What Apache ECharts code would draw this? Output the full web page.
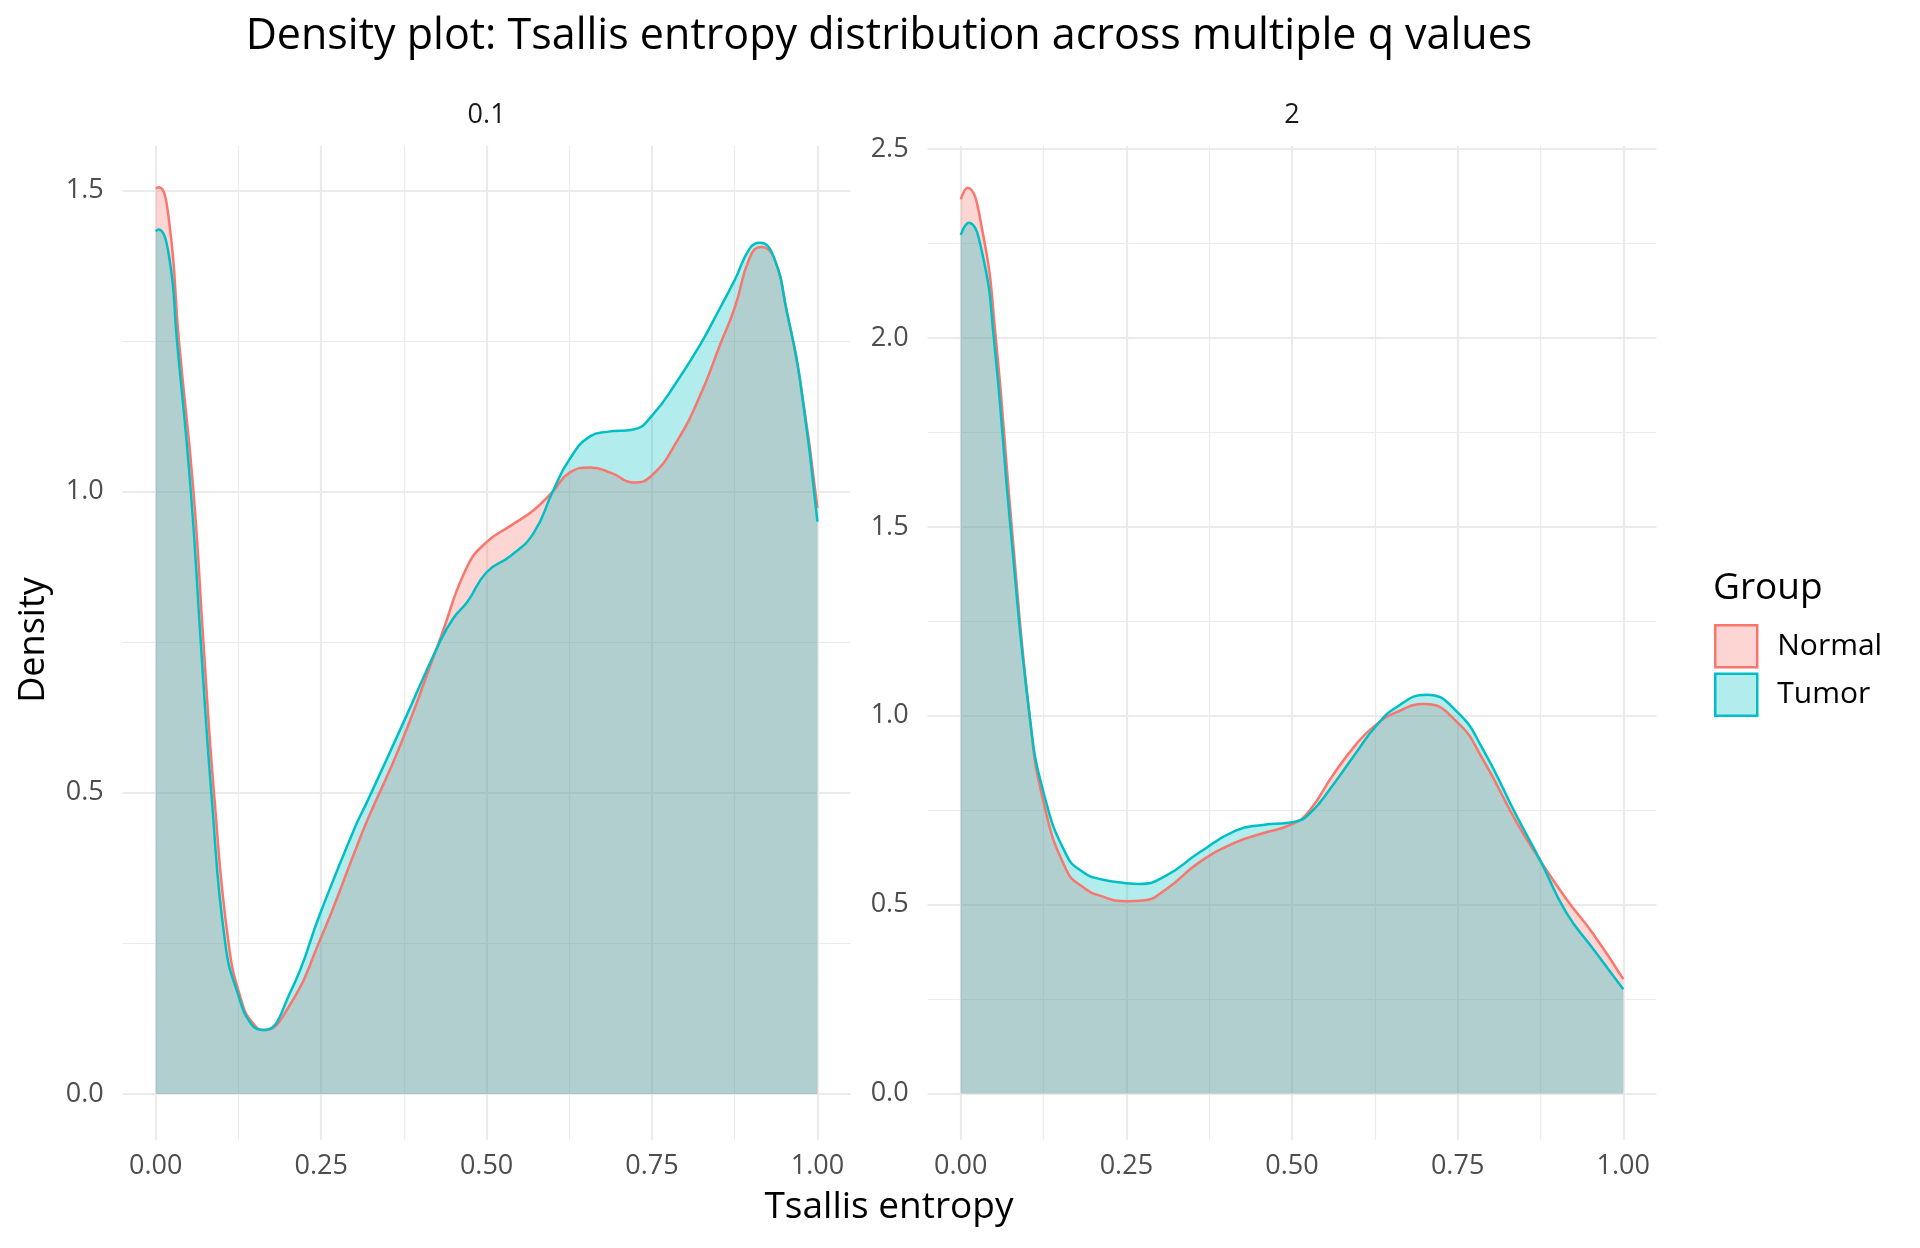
<!DOCTYPE html>
<html>
<head>
<meta charset="utf-8">
<script src="https://cdn.jsdelivr.net/npm/echarts@6/dist/echarts.min.js"></script>
<style>
html,body{margin:0;padding:0;background:#fff;}
#chart{width:1920px;height:1248px;}
</style>
</head>
<body>
<div id="chart"></div>
<script>
// ---- data ----
var panelLabels = ['0.1', '2'];
var groups = ['Normal', 'Tumor'];
var groupColors = ['#F8766D', '#00BFC4'];

// q = 0.1 panel
var q01NormalX = [0, 0.005, 0.02, 0.035, 0.057, 0.072, 0.088, 0.11, 0.13, 0.145, 0.163, 0.2, 0.25, 0.3, 0.32, 0.37, 0.43, 0.47, 0.5, 0.536, 0.571, 0.6, 0.625, 0.657, 0.69, 0.722, 0.75, 0.788, 0.823, 0.853, 0.875, 0.898, 0.915, 0.934, 0.954, 0.974, 1.0];
var q01NormalY = [1.503, 1.505, 1.45, 1.25, 1.0, 0.75, 0.5, 0.25, 0.153, 0.12, 0.106, 0.143, 0.26, 0.40, 0.455, 0.58, 0.756, 0.874, 0.916, 0.943, 0.969, 1.0, 1.031, 1.04, 1.03, 1.015, 1.027, 1.084, 1.16, 1.244, 1.305, 1.389, 1.406, 1.389, 1.297, 1.183, 0.973];
var q01TumorX = [0, 0.004, 0.02, 0.032, 0.053, 0.068, 0.084, 0.105, 0.125, 0.145, 0.163, 0.203, 0.25, 0.3, 0.319, 0.374, 0.43, 0.45, 0.471, 0.5, 0.536, 0.571, 0.6, 0.625, 0.657, 0.682, 0.722, 0.75, 0.788, 0.823, 0.853, 0.875, 0.898, 0.913, 0.934, 0.954, 0.974, 1.0];
var q01TumorY = [1.432, 1.435, 1.391, 1.25, 1.0, 0.75, 0.5, 0.25, 0.163, 0.115, 0.106, 0.168, 0.304, 0.44, 0.484, 0.616, 0.752, 0.79, 0.817, 0.866, 0.893, 0.931, 1.0, 1.053, 1.092, 1.099, 1.103, 1.126, 1.183, 1.244, 1.305, 1.351, 1.404, 1.413, 1.389, 1.297, 1.183, 0.95];

// q = 2 panel
var q2NormalX = [0, 0.01, 0.033, 0.053, 0.077, 0.104, 0.125, 0.16, 0.185, 0.21, 0.25, 0.275, 0.31, 0.36, 0.415, 0.456, 0.5, 0.526, 0.561, 0.597, 0.625, 0.657, 0.7, 0.75, 0.788, 0.839, 0.875, 0.914, 0.955, 1.0];
var q2NormalY = [2.367, 2.398, 2.281, 2.0, 1.5, 1.0, 0.771, 0.59, 0.546, 0.524, 0.509, 0.511, 0.541, 0.612, 0.665, 0.689, 0.713, 0.748, 0.841, 0.925, 0.974, 1.009, 1.031, 0.982, 0.885, 0.718, 0.616, 0.515, 0.422, 0.303];
var q2TumorX = [0, 0.012, 0.033, 0.05, 0.075, 0.104, 0.125, 0.16, 0.185, 0.21, 0.25, 0.27, 0.31, 0.36, 0.415, 0.456, 0.5, 0.526, 0.561, 0.597, 0.625, 0.657, 0.703, 0.75, 0.788, 0.839, 0.875, 0.914, 0.955, 1.0];
var q2TumorY = [2.273, 2.305, 2.22, 2.0, 1.5, 1.0, 0.797, 0.63, 0.586, 0.568, 0.557, 0.555, 0.577, 0.638, 0.696, 0.711, 0.718, 0.74, 0.815, 0.903, 0.969, 1.022, 1.056, 1.009, 0.912, 0.735, 0.616, 0.479, 0.382, 0.276];

// tick values
var xMajorTicks = [0, 0.25, 0.5, 0.75, 1.0];
var xMinorTicks = [0.125, 0.375, 0.625, 0.875];
var yMajorTicksLeft = [0, 0.5, 1.0, 1.5];
var yMinorTicksLeft = [0.25, 0.75, 1.25];
var yMajorTicksRight = [0, 0.5, 1.0, 1.5, 2.0, 2.5];
var yMinorTicksRight = [0.25, 0.75, 1.25, 1.75, 2.25];

// ---- chart ----
var FONT = 'Open Sans';
function zip(xs, ys) { return xs.map(function (x, i) { return [x, ys[i]]; }); }

var grids = [
  { left: 122.7, top: 145.7, width: 727.8, height: 994 },
  { left: 927.6, top: 145.7, width: 728.8, height: 994 }
];
var xRange = [-0.05, 1.05];
var yRanges = [[-0.0759, 1.574], [-0.122, 2.509]];
var yMajors = [yMajorTicksLeft, yMajorTicksRight];
var yMinors = [yMinorTicksLeft, yMinorTicksRight];

var xAxes = [], yAxes = [];
for (var g = 0; g < 2; g++) {
  xAxes.push({
    type: 'value', gridIndex: g, min: xRange[0], max: xRange[1],
    axisLine: { show: false, onZero: false },
    axisTick: { show: false, customValues: xMajorTicks },
    axisLabel: { customValues: xMajorTicks, color: '#4D4D4D', fontSize: 27, fontFamily: FONT, margin: 13,
      formatter: function (v) { return v.toFixed(2); } },
    splitLine: { show: true, lineStyle: { color: '#EBEBEB', width: 2.2 } }
  });
  xAxes.push({
    type: 'value', gridIndex: g, min: xRange[0], max: xRange[1],
    axisLine: { show: false, onZero: false },
    axisTick: { show: false, customValues: xMinorTicks },
    axisLabel: { show: false },
    splitLine: { show: true, lineStyle: { color: '#EBEBEB', width: 1.2 } }
  });
  yAxes.push({
    type: 'value', gridIndex: g, min: yRanges[g][0], max: yRanges[g][1],
    axisLine: { show: false, onZero: false },
    axisTick: { show: false, customValues: yMajors[g] },
    axisLabel: { customValues: yMajors[g], color: '#4D4D4D', fontSize: 27, fontFamily: FONT, margin: 19,
      formatter: function (v) { return v.toFixed(1); } },
    splitLine: { show: true, lineStyle: { color: '#EBEBEB', width: 2.2 } }
  });
  yAxes.push({
    type: 'value', gridIndex: g, min: yRanges[g][0], max: yRanges[g][1],
    axisLine: { show: false, onZero: false },
    axisTick: { show: false, customValues: yMinors[g] },
    axisLabel: { show: false },
    splitLine: { show: true, lineStyle: { color: '#EBEBEB', width: 1.2 } }
  });
}

function densitySeries(name, color, xs, ys, g) {
  return {
    name: name, type: 'line', xAxisIndex: g * 2, yAxisIndex: g * 2,
    data: zip(xs, ys), showSymbol: false, symbol: 'none',
    smooth: 0.5,
    lineStyle: { color: color, width: 2.5 },
    itemStyle: { color: color },
    areaStyle: { color: color, opacity: 0.3, origin: 0 },
    emphasis: { disabled: true },
    animation: false
  };
}

var series = [
  densitySeries(groups[0], groupColors[0], q01NormalX, q01NormalY, 0),
  densitySeries(groups[1], groupColors[1], q01TumorX, q01TumorY, 0),
  densitySeries(groups[0], groupColors[0], q2NormalX, q2NormalY, 1),
  densitySeries(groups[1], groupColors[1], q2TumorX, q2TumorY, 1)
];

var option = {
  backgroundColor: '#ffffff',
  animation: false,
  grid: grids,
  xAxis: xAxes,
  yAxis: yAxes,
  series: series,
  legend: {
    orient: 'vertical', left: 1714, top: 624, padding: 0,
    itemWidth: 42, itemHeight: 42, itemGap: 4,
    selectedMode: false,
    textStyle: { fontSize: 30, fontFamily: FONT, color: '#000000', padding: [0, 0, 0, 15] },
    data: [
      { name: groups[0], icon: 'rect', itemStyle: { color: 'rgba(248,118,109,0.3)', borderColor: groupColors[0], borderWidth: 2.5 } },
      { name: groups[1], icon: 'rect', itemStyle: { color: 'rgba(0,191,196,0.3)', borderColor: groupColors[1], borderWidth: 2.5 } }
    ]
  },
  graphic: [
    { type: 'text', x: 889, y: 37, style: { text: 'Density plot: Tsallis entropy distribution across multiple q values',
      fontSize: 43, fontFamily: FONT, fill: '#000000', align: 'center', verticalAlign: 'middle' } },
    { type: 'text', x: 486.6, y: 115, style: { text: panelLabels[0], fontSize: 27, fontFamily: FONT, fill: '#1A1A1A', align: 'center', verticalAlign: 'middle' } },
    { type: 'text', x: 1292, y: 115, style: { text: panelLabels[1], fontSize: 27, fontFamily: FONT, fill: '#1A1A1A', align: 'center', verticalAlign: 'middle' } },
    { type: 'text', x: 889, y: 1207, style: { text: 'Tsallis entropy', fontSize: 37, fontFamily: FONT, fill: '#000000', align: 'center', verticalAlign: 'middle' } },
    { type: 'text', x: 34, y: 640, rotation: Math.PI / 2, style: { text: 'Density', fontSize: 36, fontFamily: FONT, fill: '#000000', align: 'center', verticalAlign: 'middle' } },
    { type: 'text', x: 1713, y: 588, style: { text: 'Group', fontSize: 37, fontFamily: FONT, fill: '#000000', align: 'left', verticalAlign: 'middle' } }
  ]
};

var chart = echarts.init(document.getElementById('chart'), null, { renderer: 'canvas' });
chart.setOption(option);
</script>
</body>
</html>
